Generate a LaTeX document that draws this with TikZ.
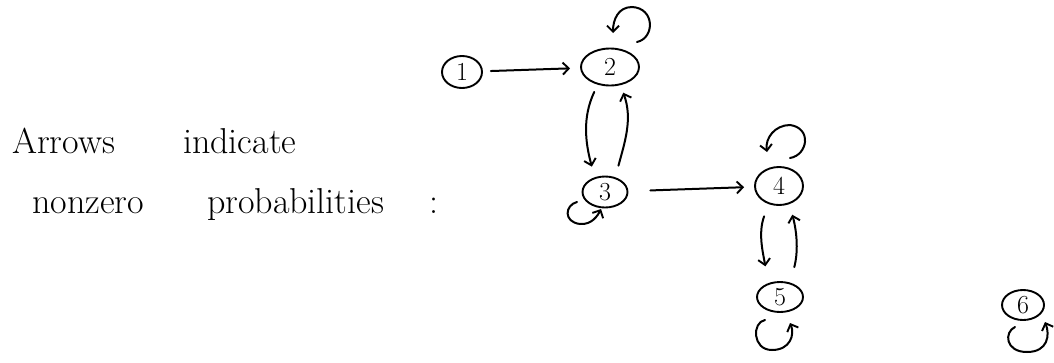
\documentclass[tikz,border=0pt]{standalone}
\usepackage{fontspec}
\usetikzlibrary{arrows.meta,shapes.geometric}
\begin{document}
\begin{tikzpicture}[x=1pt,y=-1pt,
  state/.style={ellipse,draw,line width=1.9pt,inner sep=0pt,
    font=\fontsize{26}{28}\selectfont},
  arr/.style={line width=2pt,line cap=round,
    -{Straight Barb[length=6pt,width=12pt,line width=1.9pt]}},
  words/.style={anchor=base west,inner sep=0pt,
    font=\fontsize{36}{40}\selectfont}]
\useasboundingbox (0,0) rectangle (1054,362);

% caption
\node[words] (cap1) at (12,153) {Arrows\hspace{68pt}indicate};
\node[words] (cap2) at (32,213) {nonzero\hspace{63pt}probabilities\hspace{45pt}:};

% states
\node[state,minimum width=40pt,minimum height=32pt] (n1) at (462,72) {1};
\node[state,minimum width=58pt,minimum height=37pt] (n2) at (610,67) {2};
\node[state,minimum width=45pt,minimum height=31pt] (n3) at (605,192) {3};
\node[state,minimum width=48pt,minimum height=38pt] (n4) at (779,186) {4};
\node[state,minimum width=46pt,minimum height=30pt] (n5) at (780,297) {5};
\node[state,minimum width=42pt,minimum height=30pt] (n6) at (1023,305) {6};

% transitions between states
\draw[arr,shorten <=8pt,shorten >=10pt] (n1) -- (n2);
\draw[arr,shorten <=22pt,shorten >=10pt] (n3) -- (n4);
\draw[arr,shorten <=8pt,shorten >=11pt] (n2.235) to[out=245,in=105] (n3.125);
\draw[arr,shorten <=12pt,shorten >=8pt] (n3.55) to[out=75,in=290] (n2.300);
\draw[arr,shorten <=13pt,shorten >=17pt] (n4.240) to[out=250,in=100] (n5.130);
\draw[arr,shorten <=16pt,shorten >=11pt] (n5.55) to[out=75,in=285] (n4.300);

% self loops
\draw[arr] ([shift={(27,-25)}]n2.center) .. controls +(18,-4) and +(23,1) ..
  ([shift={(22,-60)}]n2.center) .. controls +(-14,0) and +(0,-13) ..
  ([shift={(3,-34)}]n2.center);
\draw[arr] ([shift={(11,-28)}]n4.center) .. controls +(18,-3) and +(22,3) ..
  ([shift={(11,-61)}]n4.center) .. controls +(-15,0) and +(-2,-14) ..
  ([shift={(-12,-34)}]n4.center);
\draw[arr] ([shift={(-28,10)}]n3.center) .. controls +(-12,3) and +(-17,-2) ..
  ([shift={(-25,32)}]n3.center) .. controls +(12,1) and +(-3,6) ..
  ([shift={(-4,17)}]n3.center);
\draw[arr] ([shift={(-15,23)}]n5.center) .. controls +(-13,2) and +(-20,0) ..
  ([shift={(-8,53)}]n5.center) .. controls +(18,0) and +(5,12) ..
  ([shift={(10,26)}]n5.center);
\draw[arr] ([shift={(-8,22)}]n6.center) .. controls +(-11,5) and +(-22,0) ..
  ([shift={(4,47)}]n6.center) .. controls +(21,0) and +(5,13) ..
  ([shift={(22,17)}]n6.center);
\end{tikzpicture}
\end{document}
